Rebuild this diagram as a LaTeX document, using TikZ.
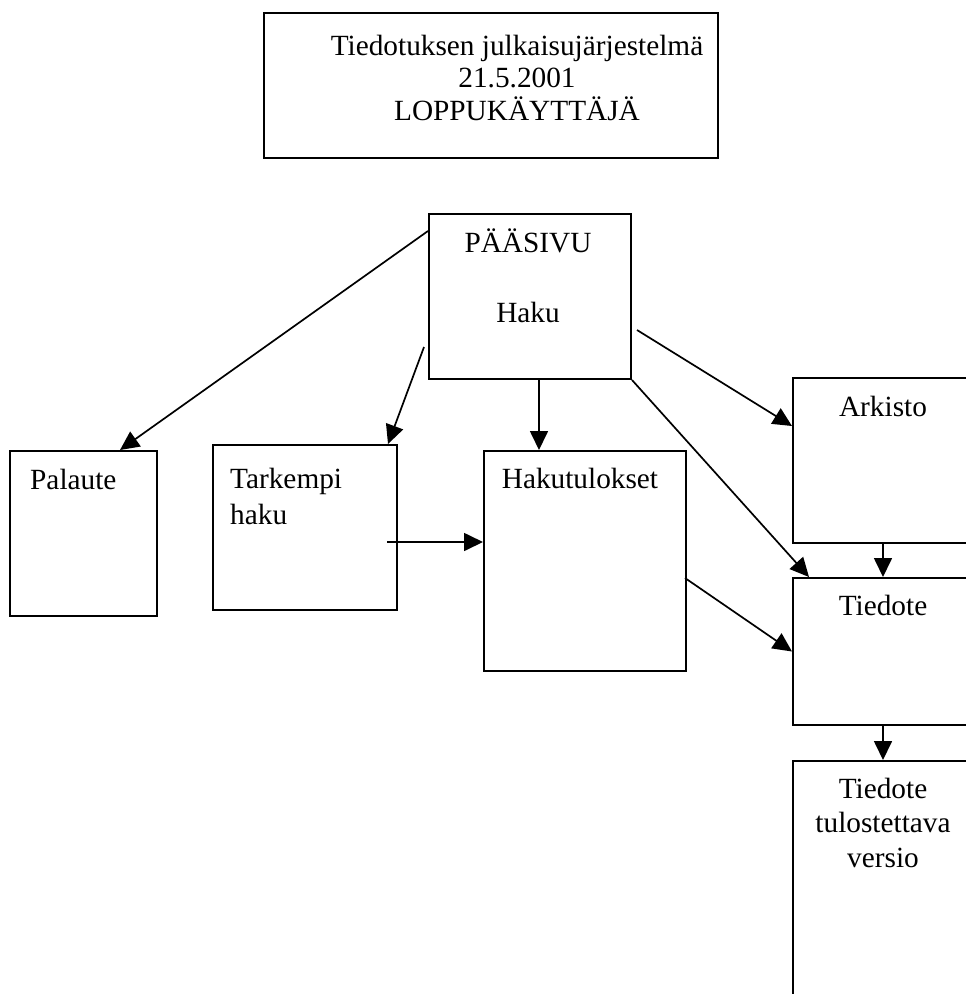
\documentclass[tikz,border=0pt]{standalone}
\usepackage{fontspec}
\setmainfont{Liberation Serif}
\usetikzlibrary{arrows.meta}

\begin{document}
\begin{tikzpicture}[x=1pt,y=-1pt,
  box/.style={draw,line width=2pt,inner sep=0pt},
  txt/.style={inner sep=0pt,anchor=base,align=center,font=\fontsize{29.3}{34.5}\selectfont},
  arr/.style={line width=1.7pt,-{Triangle[length=19pt,width=18pt]}}]
\clip (0,0) rectangle (966,994);

% boxes
\node[box,minimum width=454pt,minimum height=145pt] (otsikko) at (491,85.5) {};
\node[box,minimum width=202pt,minimum height=165pt] (paasivu) at (530,296.5) {};
\node[box,minimum width=147pt,minimum height=165pt] (palaute) at (83.5,533.5) {};
\node[box,minimum width=184pt,minimum height=165pt] (tarkempi) at (305,527.5) {};
\node[box,minimum width=202pt,minimum height=220pt] (hakutul) at (585,561) {};
\node[box,minimum width=180pt,minimum height=165pt] (arkisto) at (883,460.5) {};
\node[box,minimum width=180pt,minimum height=147pt] (tiedote) at (883,651.5) {};
\node[box,minimum width=180pt,minimum height=249pt] (tulostus) at (883,885.5) {};

% texts (multi-line ones sit on their last baseline)
\node[txt,font=\fontsize{29.3}{32.5}\selectfont] (t-otsikko) at (517,120) {Tiedotuksen julkaisujärjestelmä\\21.5.2001\\LOPPUKÄYTTÄJÄ};
\node[txt] (t-paasivu) at (528,252) {PÄÄSIVU};
\node[txt] (t-haku) at (528,322) {Haku};
\node[txt,anchor=base west] (t-palaute) at (30,489) {Palaute};
\node[txt,anchor=base west,align=left,font=\fontsize{29.3}{36}\selectfont] (t-tarkempi) at (230,524) {Tarkempi\\haku};
\node[txt] (t-hakutul) at (580,488) {Hakutulokset};
\node[txt] (t-arkisto) at (883,416) {Arkisto};
\node[txt] (t-tiedote) at (883,615) {Tiedote};
\node[txt] (t-tulostus) at (883,867) {Tiedote\\tulostettava\\versio};

% arrows
\coordinate (a1) at ([yshift=-18pt]paasivu.north west);
\coordinate (a2) at ([xshift=-4pt,yshift=-134pt]paasivu.north west);
\coordinate (a3) at ([xshift=9pt]paasivu.south);
\coordinate (a4) at ([xshift=5pt,yshift=-33.5pt]paasivu.east);
\coordinate (a5) at ([xshift=-11pt,yshift=-14.5pt]tarkempi.east);
\coordinate (a6) at ([xshift=-2pt,yshift=-17pt]hakutul.east);

\draw[arr] (a1) -- ([xshift=36.5pt]palaute.north);
\draw[arr] (a2) -- ([xshift=-10pt]tarkempi.north east);
\draw[arr] (a3) -- (a3 |- hakutul.north);
\draw[arr] (a4) -- ([yshift=34.5pt]arkisto.west);
\draw[arr] (paasivu.south east) -- ([xshift=17pt]tiedote.north west);
\draw[arr] (a5) -- (a5 -| hakutul.west);
\draw[arr] (a6) -- (tiedote.west);
\draw[arr] (arkisto.south) -- (tiedote.north);
\draw[arr] (tiedote.south) -- (tulostus.north);

\end{tikzpicture}
\end{document}
